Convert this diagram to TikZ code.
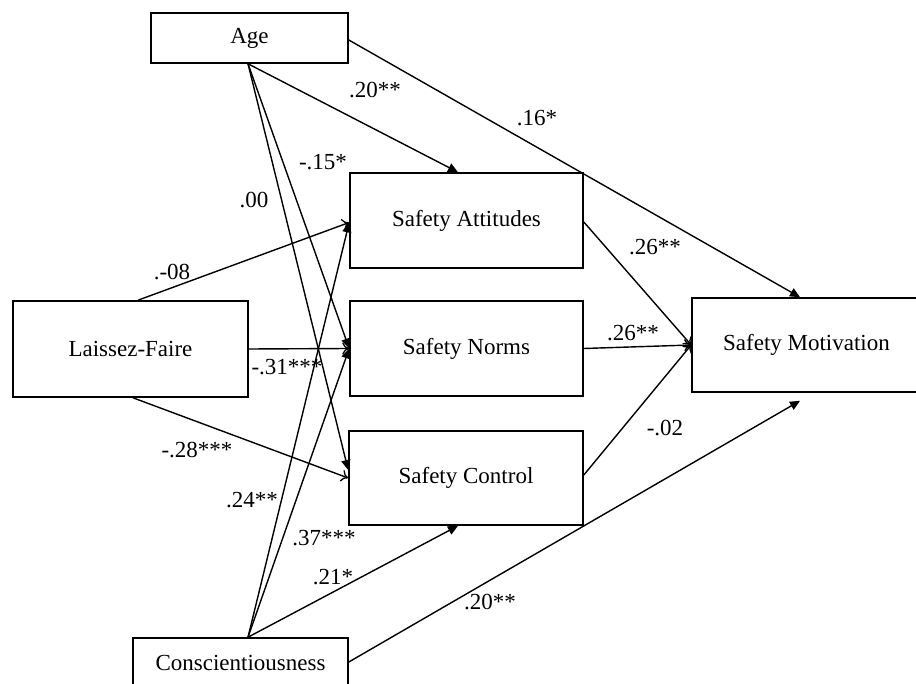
\documentclass[tikz,border=0pt]{standalone}
\usepackage{fontspec}
\setmainfont{Liberation Serif}
\usetikzlibrary{arrows.meta,calc}
\begin{document}
\begin{tikzpicture}[x=1pt,y=-1pt,
  box/.style={draw=black,line width=1.6pt,rectangle,inner sep=0pt,font=\fontsize{23}{25}\selectfont},
  lbl/.style={inner sep=0pt,font=\fontsize{23}{25}\selectfont},
  path/.style={line width=1.4pt,draw=black},
  solidtip/.style={path,-{Triangle[length=10pt,width=9pt]}},
  opentip/.style={path,-{To[length=7pt,width=12pt,line width=1.3pt]}}
]
\useasboundingbox (0,0) rectangle (916,684);
\clip (0,0) rectangle (916,684);
\fill[white] (0,0) rectangle (916,684);

\node[box,minimum width=197pt,minimum height=50pt] (age) at (249.5,38) {Age};
\node[box,minimum width=233pt,minimum height=95pt] (sa) at (466.5,220.5) {Safety Attitudes};
\node[box,minimum width=233pt,minimum height=95pt] (sn) at (466.5,348.5) {Safety Norms};
\node[box,minimum width=234pt,minimum height=94pt] (sc) at (466,478) {Safety Control};
\node[box,minimum width=235pt,minimum height=96pt] (lf) at (130.5,349) {Laissez-Faire};
\node[box,minimum width=229pt,minimum height=94pt] (sm) at (806.5,345) {Safety Motivation};
\node[box,minimum width=215pt,minimum height=50pt] (con) at (240.5,663) {Conscientiousness};

\coordinate (ageS) at ([xshift=-1.5pt]age.south);
\coordinate (conN) at ([xshift=7.5pt]con.north);
\coordinate (lfN) at ([xshift=7.5pt]lf.north);
\coordinate (saN) at ([xshift=-8.5pt]sa.north);
\coordinate (smN) at ([xshift=-6.5pt]sm.north);
\coordinate (smS) at ([xshift=-6.5pt,yshift=-8pt]sm.south);
\coordinate (scW) at ([yshift=8pt]sc.west);
\coordinate (scS) at ([xshift=-8pt]sc.south);
\coordinate (saE) at ([yshift=-1.5pt]sa.east);
\coordinate (scE) at ([yshift=3pt]sc.east);

% Age paths
\draw[solidtip] (ageS) -- (saN);
\draw[solidtip] ([yshift=-2pt]age.east) -- (smN);
\draw[solidtip] (ageS) -- (sn.west);
\draw[solidtip] (ageS) -- (scW);

% Laissez-Faire paths
\draw[opentip] (lfN) -- ([yshift=-2pt]sa.west);
\draw[opentip] (lf.east) -- (sn.west);
\draw[opentip] ([xshift=2.5pt]lf.south) -- (sc.west);

% Conscientiousness paths
\draw[solidtip] (conN) -- ([yshift=-2pt]sa.west);
\draw[solidtip] (conN) -- (sn.west);
\draw[solidtip] (conN) -- (scS);
\draw[solidtip] ([yshift=1pt]con.east) -- (smS);

% Mediators to outcome
\draw[opentip] (saE) -- (sm.west);
\draw[opentip] (sn.east) -- (sm.west);
\draw[opentip] (scE) -- (sm.west);

% Labels
\node[lbl] (l1) at (375,90) {.20**};
\node[lbl] (l2) at (537,118) {.16*};
\node[lbl] (l3) at (323,162) {-.15*};
\node[lbl] (l4) at (254,200) {.00};
\node[lbl] (l5) at (172,272) {.-08};
\node[lbl] (l6) at (287,367) {-.31***};
\node[lbl] (l7) at (197,450) {-.28***};
\node[lbl] (l8) at (252,500) {.24**};
\node[lbl] (l9) at (324,538) {.37***};
\node[lbl] (l10) at (333,577) {.21*};
\node[lbl] (l11) at (490,602) {.20**};
\node[lbl] (l12) at (655,247) {.26**};
\node[lbl] (l13) at (633,333) {.26**};
\node[lbl] (l14) at (665,428) {-.02};
\end{tikzpicture}
\end{document}
